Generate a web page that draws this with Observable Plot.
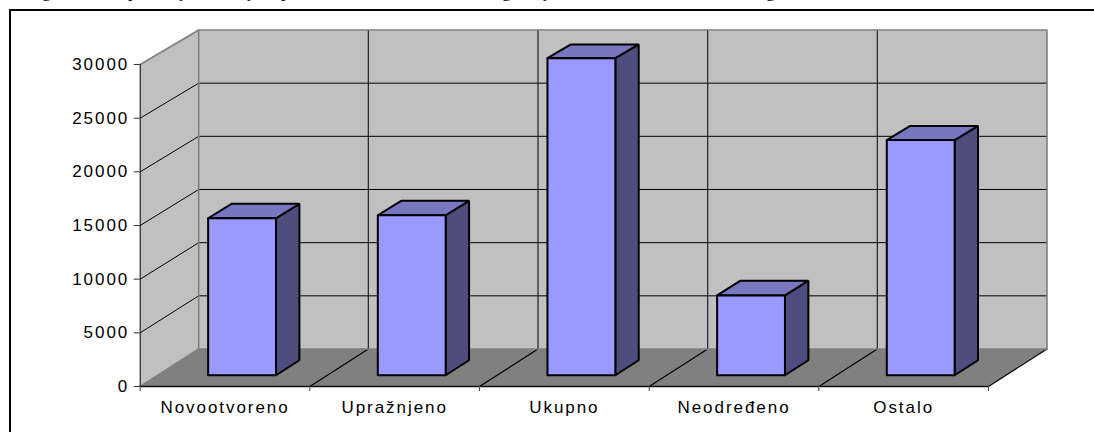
<!DOCTYPE html>
<html>
<head>
<meta charset="utf-8">
<script src="https://cdn.jsdelivr.net/npm/d3@7"></script>
<script src="https://cdn.jsdelivr.net/npm/@observablehq/plot@0.6"></script>
<style>
html,body{margin:0;padding:0;background:#fff;overflow:hidden}
#page{position:relative;width:1094px;height:432px;overflow:hidden}
#frame{position:absolute;left:8.5px;top:9px;right:-4px;bottom:-4px;border-top:2px solid #000;border-left:2px solid #000}
.tail{position:absolute;top:-19px;font:18px "Liberation Serif";color:#000}
svg{position:absolute;left:0;top:0;background:transparent}
</style>
</head>
<body>
<div id="page"><div id="frame"></div></div>
<script>
const categories = ["Novootvoreno", "Upražnjeno", "Ukupno", "Neodređeno", "Ostalo"];
const values = [14670, 14950, 29620, 7460, 21970];
const yTicks = [0, 5000, 10000, 15000, 20000, 25000, 30000];
const clippedLetters = ["g", "p", "j", "j", "p", "g", "j", "g"];
const clippedAt = [42, 128, 180, 248, 281, 502, 544, 766];

const ink = "#000", edge = "#808080";
const wall = "#c0c0c0", floor = "#808080";
const front = "#9999ff", top_ = "#7777c0", side = "#4d4d80";

// Oblique projection of the 3-D box: depth d (0 front, 1 back) shifts a point in data units.
const DX = 0.3447, DV = 3494, SHRINK = 0.0093;
const px = (x, d) => x + d * DX;
const py = (v, d) => v * (1 - d * SHRINK) + d * DV;
const P = (x, v, d) => ({x: px(x, d), y: py(v, d)});
const shape = (id, pts) => pts.map((p) => ({...p, id}));

const N = categories.length, MAX = 30000;
const idx = d3.range(N + 1);

const backWall = shape("b", [P(0,0,1), P(N,0,1), P(N,MAX,1), P(0,MAX,1), P(0,0,1)]);
const leftWall = shape("l", [P(0,0,0), P(0,0,1), P(0,MAX,1), P(0,MAX,0), P(0,0,0)]);
const floorPoly = shape("f", [P(0,0,0), P(N,0,0), P(N,0,1), P(0,0,1), P(0,0,0)]);

const gridBack = yTicks.slice(1, -1).flatMap((v) => shape("gb" + v, [P(0,v,1), P(N,v,1)]));
const gridLeft = yTicks.slice(1, -1).flatMap((v) => shape("gl" + v, [P(0,v,0), P(0,v,1)]));
const gridVert = idx.slice(1, -1).flatMap((i) => shape("gv" + i, [P(i,0,1), P(i,MAX,1)]));
const gridFloor = idx.slice(1).flatMap((i) => shape("gf" + i, [P(i,0,0), P(i,0,1)]));
const edges = [
  shape("e1", [P(0,0,1), P(0,MAX,1), P(N,MAX,1), P(N,0,1)]),
  shape("e2", [P(0,MAX,0), P(0,MAX,1)]),
  shape("e3", [P(0,0,0), P(0,0,1), P(N,0,1)])
].flat();

// Bars
const D0 = 0.3, D1 = 0.7, HW = 0.2, BAR_SHIFT = -0.003;
const faces = (make) => values.flatMap((v, i) => make(v, i, i + 0.5 - HW + BAR_SHIFT, i + 0.5 + HW + BAR_SHIFT));
const barSide = faces((v, i, a, b) => shape("s" + i, [P(b,0,D0), P(b,0,D1), P(b,v,D1), P(b,v,D0), P(b,0,D0)]));
const barTop = faces((v, i, a, b) => shape("t" + i, [P(a,v,D0), P(b,v,D0), P(b,v,D1), P(a,v,D1), P(a,v,D0)]));
const barFront = faces((v, i, a, b) => shape("r" + i, [P(a,0,D0), P(b,0,D0), P(b,v,D0), P(a,v,D0), P(a,0,D0)]));

const poly = (data, fill, stroke = "none", strokeWidth = 1) =>
  Plot.line(data, {x: "x", y: "y", z: "id", fill, stroke, strokeWidth, strokeLinejoin: "miter"});

const chart = Plot.plot({
  width: 1094,
  height: 432,
  marginLeft: 139.7,
  marginRight: 106,
  marginTop: 64,
  marginBottom: 46,
  x: {type: "linear", domain: [0, N]},
  y: {type: "linear", domain: [0, MAX]},
  style: {fontFamily: "'Liberation Sans'", fontSize: "17px", letterSpacing: "1.95px", color: "#000", background: "transparent"},
  marks: [
    poly(backWall, wall),
    poly(leftWall, wall),
    poly(floorPoly, floor),
    poly(gridBack, "none", ink, 1),
    poly(gridLeft, "none", ink, 1),
    poly(gridVert, "none", "#222", 1.2),
    poly(gridFloor, "none", ink, 1.2),
    poly(edges, "none", edge, 1.6),
    poly(barSide, side, ink, 2),
    poly(barTop, top_, ink, 2),
    poly(barFront, front, ink, 2),
    Plot.ruleX([0], {y1: 0, y2: MAX, stroke: ink, strokeWidth: 1}),
    Plot.ruleY([0], {x1: 0, x2: N, stroke: "#111", strokeWidth: 1.6}),
    Plot.axisY({ticks: yTicks, label: null, tickSize: 6, tickPadding: 5, tickFormat: (d) => String(d), fill: "#000", stroke: "#333", strokeWidth: 1}),
    Plot.axisX({ticks: idx, label: null, tickSize: 5, tickFormat: () => "", stroke: "#444", strokeWidth: 1}),
    Plot.axisX({ticks: idx.slice(0, -1).map((i) => i + 0.5), label: null, tickSize: 0, tickPadding: 14, tickFormat: (d) => categories[d - 0.5], fill: "#000"})
  ]
});
const page = document.getElementById("page");
page.appendChild(chart);
clippedLetters.forEach((c, i) => {
  const s = document.createElement("span");
  s.className = "tail";
  s.style.left = clippedAt[i] + "px";
  s.textContent = c;
  page.appendChild(s);
});
</script>
</body>
</html>
